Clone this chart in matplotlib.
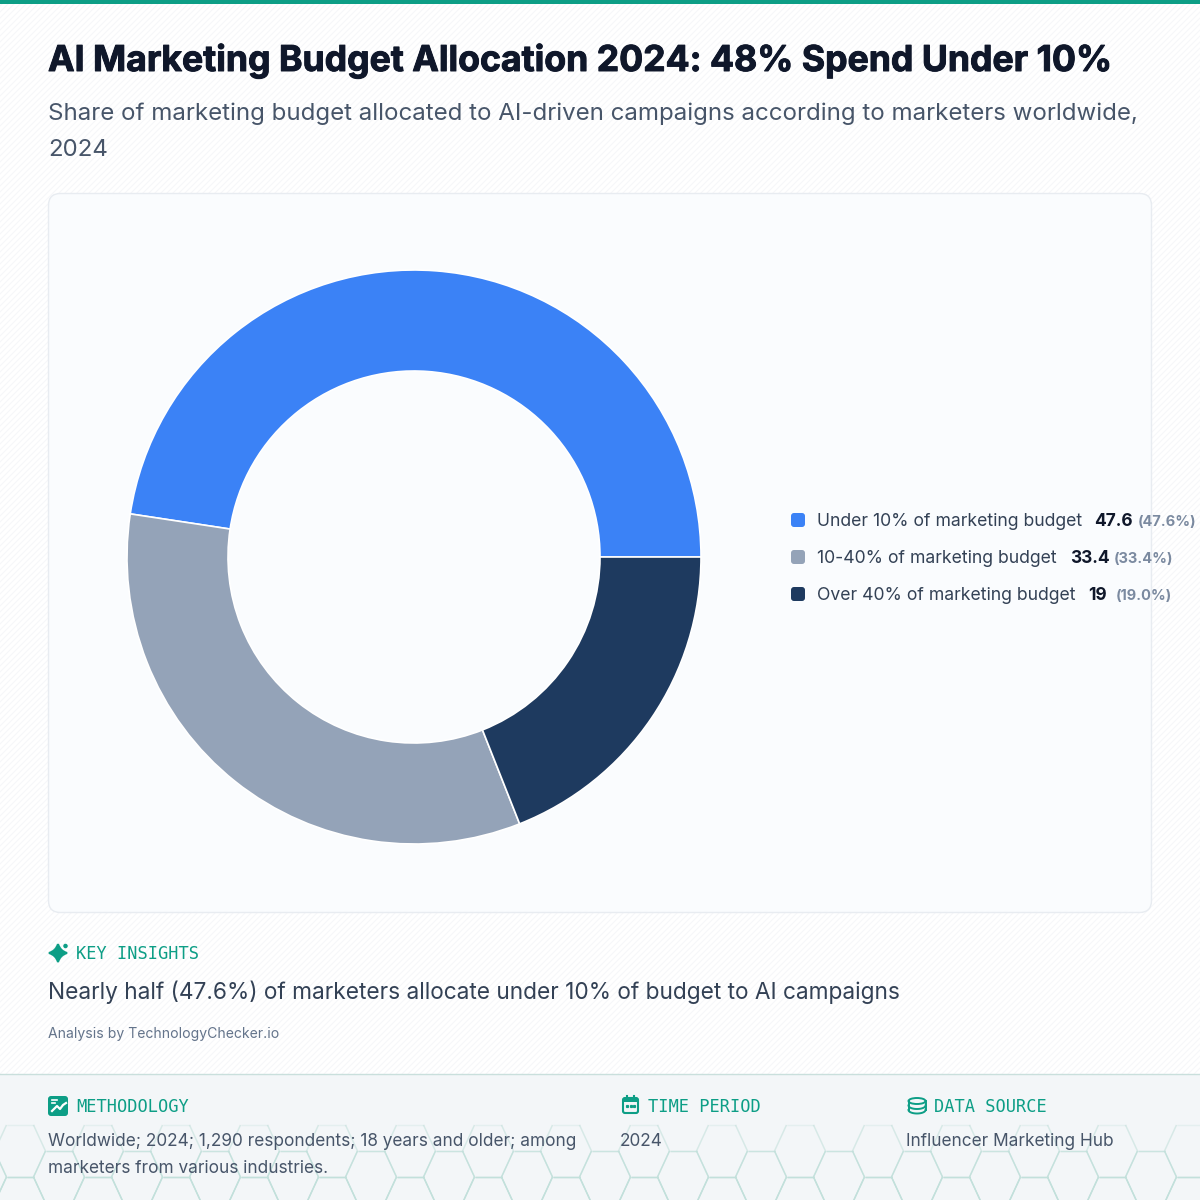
import numpy as np
import matplotlib
matplotlib.use('Agg')
import matplotlib.pyplot as plt
import matplotlib.patheffects as pe
from matplotlib.patches import FancyBboxPatch, Rectangle, PathPatch, Ellipse
from matplotlib.path import Path
from matplotlib.collections import LineCollection

# data
categories = ['Under 10% of marketing budget', '10-40% of marketing budget', 'Over 40% of marketing budget']
values = [47.6, 33.4, 19]
value_labels = ['47.6', '33.4', '19']
pct_labels = ['(47.6%)', '(33.4%)', '(19.0%)']
colors = ['#3b82f6', '#94a3b8', '#1e3a5f']

title = 'AI Marketing Budget Allocation 2024: 48% Spend Under 10%'
subtitle = ['Share of marketing budget allocated to AI-driven campaigns according to marketers worldwide,', '2024']
insight = 'Nearly half (47.6%) of marketers allocate under 10% of budget to AI campaigns'
credit = 'Analysis by TechnologyChecker.io'
method_text = ['Worldwide; 2024; 1,290 respondents; 18 years and older; among', 'marketers from various industries.']
period_text = '2024'
source_text = 'Influencer Marketing Hub'

TEAL = '#0d9e86'
SANS = ['Inter', 'DejaVu Sans']
MONO = 'DejaVu Sans Mono'

fig = plt.figure(figsize=(12, 12), dpi=100, facecolor='white')
ax = fig.add_axes([0, 0, 1, 1])
ax.set_xlim(0, 1200)
ax.set_ylim(1200, 0)
ax.axis('off')


def px(size):
    return size * 0.72


# faint diagonal background lines
diag = []
for c in np.arange(0, 2400, 6):
    diag.append([(c, 0), (c - 1200, 1200)])
ax.add_collection(LineCollection(diag, colors='#f6f7f9', linewidths=0.8, zorder=0))

# top bar, card, footer
ax.add_patch(Rectangle((0, 0), 1200, 4, fc=TEAL, ec='none', zorder=1))
ax.add_patch(FancyBboxPatch((48.5, 193.5), 1103, 719, boxstyle='round,pad=0,rounding_size=12',
                            fc='#fafcfe', ec='#e8ecf1', lw=1, zorder=1))
ax.add_patch(Rectangle((0, 1074), 1200, 126, fc='#f3f6f8', ec='none', zorder=1))
ax.plot([0, 1200], [1074, 1074], color='#c9dfdc', lw=1, zorder=2)

# honeycomb in the footer, fading towards the top
segs = []
seg_alpha = []
for col in range(-1, 33):
    cx = 20 + col * 39
    for row in range(-2, 4):
        cy = 1151 + row * 52 + (26 if col % 2 else 0)
        hexa = [(cx - 13.5, cy - 26), (cx + 13.5, cy - 26), (cx + 25.5, cy), (cx + 13.5, cy + 26),
                (cx - 13.5, cy + 26), (cx - 25.5, cy)]
        for i in range(6):
            a, b = hexa[i], hexa[(i + 1) % 6]
            segs.append([a, b])
            seg_alpha.append(np.clip(((a[1] + b[1]) / 2 - 1115) / 65, 0, 1))
seg_colors = [(0.76, 0.88, 0.86, al) for al in seg_alpha]
hex_lines = LineCollection(segs, colors=seg_colors, linewidths=1.0, zorder=1.5)
ax.add_collection(hex_lines)

# donut
pie_ax = fig.add_axes([127 / 1200, 1 - 844 / 1200, 574 / 1200, 574 / 1200])
pie_ax.pie(values, colors=colors, startangle=0, counterclock=True, radius=1,
           wedgeprops={'width': 101 / 287, 'edgecolor': 'white', 'linewidth': 1.2})
pie_ax.set_xlim(-1, 1)
pie_ax.set_ylim(-1, 1)
pie_ax.patch.set_alpha(0)

# header text
ax.text(48, 71, title, fontsize=px(35.6), fontweight='bold', color='#0f172a', family=SANS, zorder=5,
        path_effects=[pe.withStroke(linewidth=0.7, foreground='#0f172a')])
ax.text(48, 120, subtitle[0], fontsize=px(24.07), color='#475569', family=SANS, zorder=5)
ax.text(48, 156, subtitle[1], fontsize=px(24.07), color='#475569', family=SANS, zorder=5)

# legend
value_x = [1094, 1070, 1088]
pct_x = [1138, 1114, 1116]
for i, name in enumerate(categories):
    y = 520 + i * 37
    ax.add_patch(FancyBboxPatch((791, y - 7), 14, 14, boxstyle='round,pad=0,rounding_size=3',
                                fc=colors[i], ec='none', zorder=4))
    ax.text(817, y + 6, name, fontsize=px(17.6), color='#334155', family=SANS, zorder=5)
    ax.text(value_x[i], y + 6, value_labels[i], fontsize=px(17.3), fontweight='bold', color='#0f172a',
            family=SANS, zorder=5)
    ax.text(pct_x[i], y + 6, pct_labels[i], fontsize=px(14.6), fontweight='bold', color='#7b8aa0',
            family=SANS, zorder=5)

# key insights
ax.text(76, 959, 'KEY INSIGHTS', fontsize=px(17), color=TEAL, family=MONO, zorder=5)
ax.text(48, 999, insight, fontsize=px(22.7), color='#334155', family=SANS, zorder=5)
ax.text(48, 1038, credit, fontsize=px(14), color='#64748b', family=SANS, zorder=5)

# sparkle icon
star = Path([(58, 944), (60, 951), (67, 953), (60, 955), (58, 962), (56, 955), (49, 953), (56, 951), (58, 944)],
            [Path.MOVETO, Path.CURVE3, Path.CURVE3, Path.CURVE3, Path.CURVE3, Path.CURVE3, Path.CURVE3, Path.CURVE3,
             Path.CURVE3])
ax.add_patch(PathPatch(star, fc=TEAL, ec=TEAL, lw=1.5, zorder=5))
ax.add_patch(Ellipse((65.5, 946), 4.5, 4.5, fc=TEAL, ec='none', zorder=5))

# footer headers
ax.text(76, 1112, 'METHODOLOGY', fontsize=px(17), color=TEAL, family=MONO, zorder=5)
ax.text(648, 1112, 'TIME PERIOD', fontsize=px(17), color=TEAL, family=MONO, zorder=5)
ax.text(934, 1112, 'DATA SOURCE', fontsize=px(17), color=TEAL, family=MONO, zorder=5)

# methodology icon
ax.add_patch(FancyBboxPatch((48, 1096), 20, 20, boxstyle='round,pad=0,rounding_size=3', fc=TEAL, ec='none', zorder=5))
ax.plot([52, 57, 60, 63, 66], [1111, 1106, 1109, 1105, 1103], color='white', lw=1.6, zorder=6)
ax.plot([52, 57], [1100, 1100], color='white', lw=1.2, zorder=6)
ax.plot([52, 55], [1103, 1103], color='white', lw=1.2, zorder=6)

# calendar icon
ax.add_patch(FancyBboxPatch((623, 1098), 15, 15, boxstyle='round,pad=0,rounding_size=2', fc='none', ec=TEAL, lw=1.5, zorder=5))
ax.add_patch(Rectangle((623, 1098), 15, 4, fc=TEAL, ec='none', zorder=5))
ax.plot([627, 627], [1096, 1099], color=TEAL, lw=1.5, zorder=5)
ax.plot([634, 634], [1096, 1099], color=TEAL, lw=1.5, zorder=5)
ax.plot([627, 630.5, 634], [1106, 1106, 1106], ls='none', marker='s', ms=1.3, color=TEAL, zorder=5)

# database icon
ax.add_patch(Ellipse((917, 1101), 17, 6, fc='none', ec=TEAL, lw=1.4, zorder=5))
ax.plot([908.5, 908.5], [1101, 1110], color=TEAL, lw=1.4, zorder=5)
ax.plot([925.5, 925.5], [1101, 1110], color=TEAL, lw=1.4, zorder=5)
theta = np.linspace(0, np.pi, 30)
for cy in [1105.5, 1110]:
    ax.plot(917 + 8.5 * np.cos(theta), cy + 3.5 * np.sin(theta), color=TEAL, lw=1.4, zorder=5)

# footer body
ax.text(48, 1146, method_text[0], fontsize=px(17.25), color='#475569', family=SANS, zorder=5)
ax.text(48, 1173, method_text[1], fontsize=px(17.25), color='#475569', family=SANS, zorder=5)
ax.text(620, 1146, period_text, fontsize=px(17.25), color='#475569', family=SANS, zorder=5)
ax.text(906, 1146, source_text, fontsize=px(17.25), color='#475569', family=SANS, zorder=5)

fig.savefig('out.png', dpi=100)
